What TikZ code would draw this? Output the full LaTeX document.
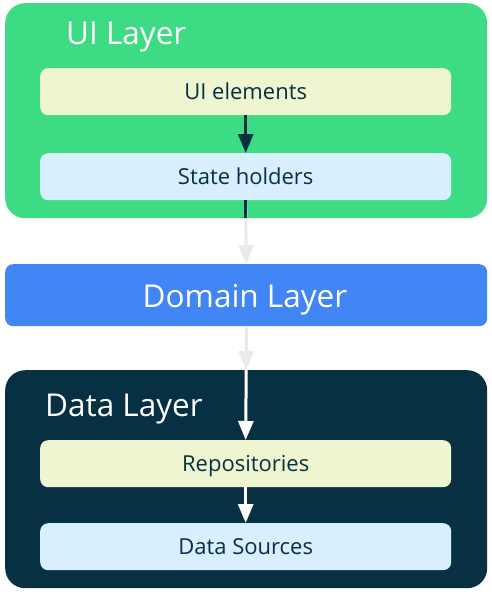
\documentclass[tikz,border=0pt]{standalone}
\usepackage{fontspec}
\setmainfont{Open Sans}
\usetikzlibrary{arrows.meta}
\definecolor{uigreen}{HTML}{3DDC84}
\definecolor{domblue}{HTML}{4285F4}
\definecolor{darkteal}{HTML}{073042}
\definecolor{lightyel}{HTML}{EEF5D0}
\definecolor{lightblu}{HTML}{D7EFFE}
\definecolor{arrgray}{HTML}{EAEAEA}
\tikzset{
  layerbox/.style={anchor=north west, inner sep=0pt, minimum width=482pt, rounded corners=20pt},
  innerbox/.style={anchor=north west, inner sep=0pt, minimum width=411pt, minimum height=47pt, rounded corners=8pt, font=\fontsize{22}{26}\selectfont, text=darkteal, text height=15.5pt, text depth=0pt},
  title/.style={anchor=base west, inner sep=0pt, text=white, font=\fontsize{31.5}{36}\selectfont},
  arr/.style={line width=3pt, -{Triangle[width=15pt,length=19pt]}},
}
\begin{document}
\begin{tikzpicture}[x=1pt,y=-1pt]
\useasboundingbox[fill=white] (0,0) rectangle (492,592);
% UI layer
\node[layerbox, fill=uigreen, minimum height=215pt] (ui) at (5,3) {};
\node[title] (uit) at (66,44) {UI Layer};
\node[innerbox, fill=lightyel] (uiel) at (40,68) {UI elements};
\node[innerbox, fill=lightblu] (sth) at (40,153) {State holders};
% Domain layer
\node[layerbox, fill=domblue, minimum height=62pt, rounded corners=8pt] (dom) at (5,264) {};
\node[title, anchor=base] (domt) at (245,307) {Domain Layer};
% Data layer
\node[layerbox, fill=darkteal, minimum height=218pt] (data) at (5,370) {};
\node[title] (datat) at (45,416) {Data Layer};
\node[innerbox, fill=lightyel] (repo) at (40,440) {Repositories};
\node[innerbox, fill=lightblu] (src) at (40,523) {Data Sources};
% arrows
\draw[arr, darkteal] (uiel.south) -- (sth.north);
\draw[arr, arrgray] (sth.south) -- (dom.north);
\draw[line width=3pt, darkteal] (sth.south) -- (sth.south |- ui.south);
\draw[arr, arrgray] (dom.south) -- (data.north);
\draw[arr, white] (data.north) -- (repo.north);
\draw[arr, white] (repo.south) -- (src.north);
\end{tikzpicture}
\end{document}
